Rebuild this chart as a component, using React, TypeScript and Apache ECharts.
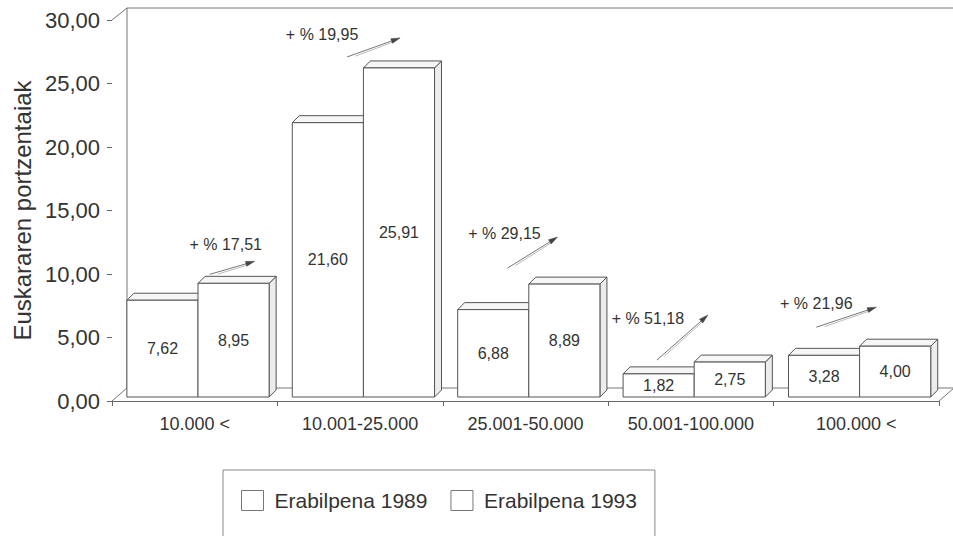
import { useEffect, useRef } from "react";
import * as echarts from "echarts";

const categories = ["10.000 <", "10.001-25.000", "25.001-50.000", "50.001-100.000", "100.000 <"];
const usage1989 = [7.62, 21.6, 6.88, 1.82, 3.28];
const usage1993 = [8.95, 25.91, 8.89, 2.75, 4.0];
const growthPct = [17.51, 19.95, 29.15, 51.18, 21.96];
const seriesNames = ["Erabilpena 1989", "Erabilpena 1993"];
const yMin = 0;
const yMax = 30;
const yStep = 5;

// layout / style (pixel offsets of the hand-placed growth annotations, relative to the 1993 bar top)
const annotationLayout = [
  { text: [31, -39], from: [15, -9], to: [60, -22] },
  { text: [-38, -33], from: [-13, -11], to: [40, -30] },
  { text: [-21, -51], from: [-18, -16], to: [32, -47] },
  { text: [-43, -44], from: [-34, -2], to: [17, -47] },
  { text: [-40, -43], from: [-40, -19], to: [20, -39] },
];

const FONT = '"Liberation Sans", Arial, Helvetica, sans-serif';
const TEXT = "#333";
const LINE = "#555";
const W = 953;
const H = 536;
const GL = 112;
const GR = 14;
const GT = 20;
const GB = 135;
const LIFT = 4;
const DEPTH = 7;
const WALL_DX = 15;
const WALL_DY = 12;

const fmt = (v: number) => v.toFixed(2).replace(".", ",");

const makeBarRender = (slot: number) => (_params: any, api: any) => {
  const cat = api.value(0);
  const val = api.value(1);
  const top = api.coord([cat, val]);
  const base = api.coord([cat, 0]);
  const band = api.size([1, 0])[0];
  const bw = band * 0.43;
  const x = top[0] - band * 0.41 + slot * bw;
  const yT = top[1] - LIFT;
  const yB = base[1] - LIFT;
  const d = DEPTH;
  return {
    type: "group",
    children: [
      {
        type: "polygon",
        shape: { points: [[x + bw, yT], [x + bw + d, yT - d], [x + bw + d, yB - d], [x + bw, yB]] },
        style: { fill: "#ececec", stroke: LINE, lineWidth: 1 },
      },
      {
        type: "polygon",
        shape: { points: [[x, yT], [x + d, yT - d], [x + bw + d, yT - d], [x + bw, yT]] },
        style: { fill: "#f6f6f6", stroke: LINE, lineWidth: 1 },
      },
      {
        type: "rect",
        shape: { x, y: yT, width: bw, height: yB - yT },
        style: { fill: "#fff", stroke: LINE, lineWidth: 1 },
      },
      {
        type: "text",
        x: x + bw / 2,
        y: (yT + yB) / 2,
        style: {
          text: fmt(val),
          font: `16px ${FONT}`,
          fill: TEXT,
          align: "center",
          verticalAlign: "middle",
        },
      },
    ],
  };
};

const annotationRender = (_params: any, api: any) => {
  const cat = api.value(0);
  const val = api.value(1);
  const g = api.value(2);
  const top = api.coord([cat, val]);
  const cx = top[0];
  const cy = top[1] - LIFT;
  const lay = annotationLayout[cat];
  const p0 = [cx + lay.from[0], cy + lay.from[1]];
  const p1 = [cx + lay.to[0], cy + lay.to[1]];
  const dx = p1[0] - p0[0];
  const dy = p1[1] - p0[1];
  const len = Math.sqrt(dx * dx + dy * dy);
  const ux = dx / len;
  const uy = dy / len;
  const nx = -uy;
  const ny = ux;
  const hl = 9;
  const hw = 2.5;
  return {
    type: "group",
    children: [
      {
        type: "line",
        shape: { x1: p0[0], y1: p0[1], x2: p1[0] - ux * 4, y2: p1[1] - uy * 4 },
        style: { stroke: "#777", lineWidth: 1 },
      },
      {
        type: "line",
        shape: { x1: p0[0] + nx * 2 + ux * 8, y1: p0[1] + ny * 2 + uy * 8, x2: p1[0] - ux * 6 + nx * 1.5, y2: p1[1] - uy * 6 + ny * 1.5 },
        style: { stroke: "#aaa", lineWidth: 0.8 },
      },
      {
        type: "polygon",
        shape: {
          points: [
            [p1[0], p1[1]],
            [p1[0] - ux * hl + nx * hw, p1[1] - uy * hl + ny * hw],
            [p1[0] - ux * hl - nx * hw, p1[1] - uy * hl - ny * hw],
          ],
        },
        style: { fill: "#444", stroke: "#444", lineWidth: 0.5 },
      },
      {
        type: "text",
        x: cx + lay.text[0],
        y: cy + lay.text[1],
        style: {
          text: "+ % " + fmt(g),
          font: `16px ${FONT}`,
          fill: TEXT,
          align: "center",
          verticalAlign: "middle",
        },
      },
    ],
  };
};

export default function App() {
  const ref = useRef<HTMLDivElement>(null);
  useEffect(() => {
    document.body.style.margin = "0";
    const chart = echarts.init(ref.current!, null, { renderer: "svg" });
    const axisBottom = H - GB;
    const axisRight = W - GR;
    const wallStyle = { stroke: "#777", lineWidth: 1 };
    const wl = (x1: number, y1: number, x2: number, y2: number) => ({
      type: "line",
      z: 0,
      silent: true,
      shape: { x1, y1, x2, y2 },
      style: wallStyle,
    });
    chart.setOption({
      animation: false,
      backgroundColor: "#fff",
      textStyle: { fontFamily: FONT },
      grid: { left: GL, right: GR, top: GT, bottom: GB, containLabel: false },
      graphic: [
        wl(GL, GT, GL + WALL_DX, GT - WALL_DY),
        wl(GL + WALL_DX, GT - WALL_DY, GL + WALL_DX, axisBottom - WALL_DY - 1),
        wl(GL + WALL_DX, GT - WALL_DY, W, GT - WALL_DY),
        wl(GL, axisBottom, GL + WALL_DX, axisBottom - WALL_DY - 1),
        wl(GL + WALL_DX, axisBottom - WALL_DY - 1, W, axisBottom - WALL_DY - 1),
        wl(axisRight, axisBottom, axisRight + WALL_DX, axisBottom - WALL_DY - 1),
      ],
      legend: {
        left: 223,
        top: 470,
        orient: "horizontal",
        selectedMode: false,
        data: seriesNames.map((n) => ({
          name: n,
          icon: "rect",
          itemStyle: { color: "#fff", borderColor: "#777", borderWidth: 1 },
        })),
        itemWidth: 22,
        itemHeight: 20,
        itemGap: 23,
        padding: [20, 18, 40, 18],
        borderColor: "#888",
        borderWidth: 1,
        textStyle: { fontSize: 21, color: TEXT, fontFamily: FONT, padding: [0, 0, 0, 6] },
      },
      xAxis: {
        type: "category",
        data: categories,
        axisLine: { show: true, lineStyle: { color: "#666", width: 1 } },
        axisTick: { show: true, length: 5, lineStyle: { color: "#666" } },
        axisLabel: { fontSize: 18, color: TEXT, margin: 14, fontFamily: FONT },
        splitLine: { show: false },
      },
      yAxis: {
        type: "value",
        min: yMin,
        max: yMax,
        interval: yStep,
        name: "Euskararen portzentaiak",
        nameLocation: "middle",
        nameGap: 78,
        nameTextStyle: { fontSize: 24, color: TEXT, fontFamily: FONT },
        axisLine: { show: false },
        axisTick: { show: true, length: 5, lineStyle: { color: "#666" } },
        axisLabel: { fontSize: 22, color: TEXT, margin: 12, fontFamily: FONT, formatter: (v: number) => fmt(v) },
        splitLine: { show: false },
      },
      series: [
        {
          name: seriesNames[0],
          type: "custom",
          renderItem: makeBarRender(0),
          itemStyle: { color: "#fff", borderColor: "#777" },
          data: usage1989.map((v, i) => [i, v]),
          z: 2,
        },
        {
          name: seriesNames[1],
          type: "custom",
          renderItem: makeBarRender(1),
          itemStyle: { color: "#fff", borderColor: "#777" },
          data: usage1993.map((v, i) => [i, v]),
          z: 3,
        },
        {
          name: "growth",
          type: "custom",
          renderItem: annotationRender,
          data: usage1993.map((v, i) => [i, v, growthPct[i]]),
          z: 4,
        },
      ],
    });
    return () => chart.dispose();
  }, []);
  return <div ref={ref} style={{ position: "absolute", left: 0, top: 0, width: W, height: H }} />;
}
